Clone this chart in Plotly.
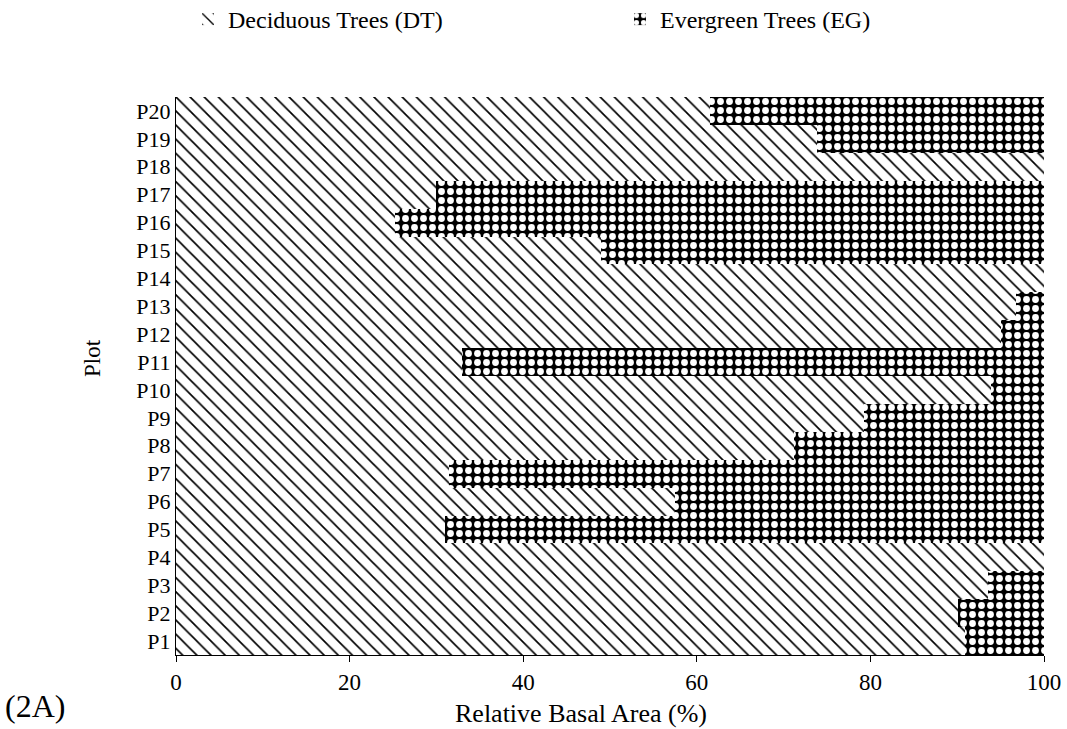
import plotly.graph_objects as go

plots = [f"P{i}" for i in range(1, 21)]
deciduous = [90.9, 90.1, 93.6, 100, 31.0, 57.5, 31.4, 71.2, 79.3, 93.9,
             33.0, 95.1, 96.8, 100, 49.0, 25.2, 30.0, 100, 73.8, 61.5]
evergreen = [round(100 - v, 1) for v in deciduous]
x_ticks = [0, 20, 40, 60, 80, 100]

FONT = "Liberation Serif, Times New Roman, serif"
L, R, T, B = 176, 23, 97, 74
W, H = 1067, 729
PW, PH = W - L - R, H - T - B


def px(xp):
    return (xp - L) / PW


def py(yp):
    return (H - B - yp) / PH


fig = go.Figure()
fig.add_trace(go.Bar(
    y=plots, x=deciduous, orientation="h", name="Deciduous Trees (DT)",
    legend="legend", showlegend=True,
    marker=dict(color="white", line=dict(width=0),
                pattern=dict(shape="\\", fgcolor="black", bgcolor="white",
                             fgopacity=1, size=10, solidity=0.17)),
))
fig.add_trace(go.Bar(
    y=plots, x=evergreen, orientation="h", name="Evergreen Trees (EG)",
    legend="legend2", showlegend=True,
    marker=dict(color="black", line=dict(width=0),
                pattern=dict(shape=".", fgcolor="white", bgcolor="black",
                             fgopacity=1, size=9, solidity=0.45)),
))

legend_common = dict(orientation="h", xanchor="left", yanchor="top",
                     font=dict(size=24, family=FONT), itemwidth=30,
                     bgcolor="rgba(0,0,0,0)", visible=True)

fig.update_layout(
    barmode="stack", bargap=0, showlegend=True,
    width=W, height=H,
    margin=dict(l=L, r=R, t=T, b=B, autoexpand=False),
    paper_bgcolor="white", plot_bgcolor="white",
    font=dict(family=FONT, size=23, color="black"),
    legend=dict(x=px(188), y=py(-3), **legend_common),
    legend2=dict(x=px(620), y=py(-3), **legend_common),
    xaxis=dict(range=[0, 100], tickvals=x_ticks, showgrid=False, zeroline=False,
               showline=True, linecolor="black", linewidth=1, automargin=False,
               ticks="outside", ticklen=6, tickcolor="black",
               tickfont=dict(size=23)),
    yaxis=dict(type="category", tickmode="array", tickvals=plots, ticktext=plots,
               showgrid=False, showline=True, linecolor="black",
               linewidth=1, ticks="", automargin=False, tickfont=dict(size=22)),
    annotations=[
        dict(text="Relative Basal Area (%)", x=px(581), y=py(713), xref="paper",
             yref="paper", showarrow=False, xanchor="center", yanchor="middle",
             font=dict(size=26, family=FONT)),
        dict(text="Plot", x=px(92), y=py(358), xref="paper", yref="paper",
             showarrow=False, textangle=-90, xanchor="center", yanchor="middle",
             font=dict(size=23, family=FONT)),
        dict(text="(2A)", x=px(35), y=py(706), xref="paper", yref="paper",
             showarrow=False, xanchor="center", yanchor="middle",
             font=dict(size=32, family=FONT)),
    ],
)

fig.write_html("out.html", config={"displayModeBar": False},
               post_script="document.body.style.margin='0';document.body.style.padding='0';")
